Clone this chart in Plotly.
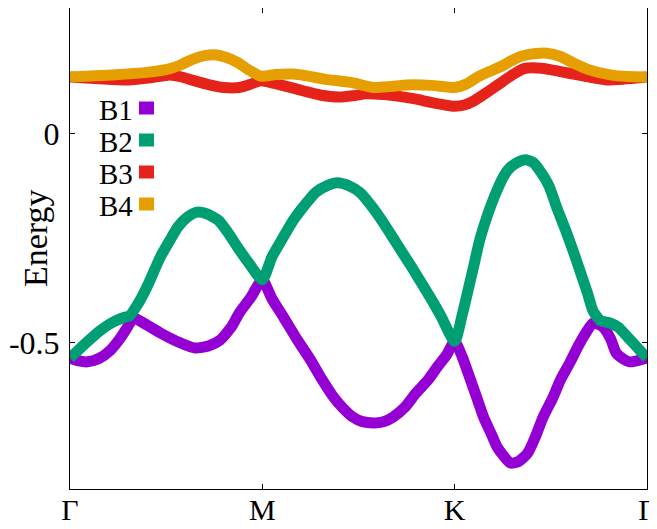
import plotly.graph_objects as go

# Path labels
tick_pos = [0, 1, 2, 3]
tick_labels = ["Γ", "M", "K", "Γ"]
y_ticks = [0, -0.5]
y_tick_labels = ["0", "-0.5"]

# Band B1 (purple)
b1_k = [0.0, 0.04, 0.09, 0.15, 0.21, 0.26, 0.30, 0.33, 0.40, 0.47, 0.56, 0.65, 0.72, 0.78, 0.84, 0.88, 0.94, 1.0,
        1.05, 1.11, 1.18, 1.25, 1.31, 1.37, 1.42, 1.47, 1.52, 1.58, 1.63, 1.68, 1.74, 1.80, 1.86, 1.91, 1.96, 2.0,
        2.04, 2.07, 2.11, 2.15, 2.19, 2.22, 2.26, 2.29, 2.33, 2.38, 2.42, 2.46, 2.51, 2.55, 2.60, 2.64, 2.68, 2.72,
        2.77, 2.81, 2.84, 2.88, 2.91, 2.95, 3.0]
b1_e = [-0.537, -0.543, -0.546, -0.538, -0.518, -0.490, -0.462, -0.441, -0.458, -0.477, -0.498, -0.513, -0.508, -0.494, -0.462, -0.429, -0.392, -0.350,
        -0.395, -0.439, -0.492, -0.541, -0.588, -0.630, -0.657, -0.678, -0.689, -0.692, -0.689, -0.678, -0.655, -0.620, -0.590, -0.558, -0.528, -0.497,
        -0.535, -0.573, -0.625, -0.678, -0.718, -0.749, -0.774, -0.788, -0.785, -0.764, -0.725, -0.678, -0.632, -0.589, -0.547, -0.510, -0.478, -0.453,
        -0.462, -0.490, -0.525, -0.540, -0.546, -0.543, -0.537]

# Band B2 (green)
b2_k = [0.0, 0.08, 0.16, 0.22, 0.28, 0.31, 0.35, 0.40, 0.47, 0.52, 0.56, 0.61, 0.66, 0.71, 0.77, 0.82, 0.87, 0.93, 1.0,
        1.05, 1.11, 1.16, 1.20, 1.28, 1.34, 1.39, 1.45, 1.51, 1.57, 1.63, 1.68, 1.72, 1.78, 1.84, 1.89, 1.93, 2.0,
        2.04, 2.07, 2.10, 2.13, 2.17, 2.22, 2.26, 2.29, 2.33, 2.37, 2.41, 2.44, 2.49, 2.53, 2.58, 2.62, 2.66, 2.69,
        2.72, 2.76, 2.80, 2.85, 2.90, 2.95, 3.0]
b2_e = [-0.537, -0.502, -0.470, -0.452, -0.440, -0.436, -0.410, -0.367, -0.295, -0.255, -0.224, -0.200, -0.188, -0.192, -0.207, -0.236, -0.271, -0.310, -0.350,
        -0.295, -0.247, -0.208, -0.183, -0.140, -0.124, -0.118, -0.125, -0.142, -0.175, -0.214, -0.250, -0.279, -0.322, -0.367, -0.405, -0.438, -0.497,
        -0.432, -0.374, -0.315, -0.255, -0.196, -0.136, -0.098, -0.081, -0.068, -0.063, -0.070, -0.087, -0.125, -0.176, -0.235, -0.286, -0.340, -0.381,
        -0.425, -0.448, -0.452, -0.463, -0.487, -0.512, -0.537]

# Band B3 (red)
b3_k = [0.0, 0.15, 0.30, 0.42, 0.52, 0.58, 0.64, 0.72, 0.80, 0.88, 0.94, 0.99, 1.06, 1.14, 1.22, 1.30, 1.40, 1.47, 1.54,
        1.63, 1.72, 1.80, 1.87, 1.94, 2.0, 2.05, 2.10, 2.16, 2.23, 2.30, 2.36, 2.45, 2.55, 2.64, 2.72, 2.79, 2.88, 3.0]
b3_e = [0.135, 0.131, 0.128, 0.133, 0.140, 0.135, 0.127, 0.117, 0.110, 0.110, 0.118, 0.126, 0.120, 0.111, 0.101, 0.092, 0.087, 0.090, 0.095,
        0.093, 0.088, 0.082, 0.075, 0.069, 0.065, 0.068, 0.078, 0.096, 0.118, 0.140, 0.155, 0.156, 0.148, 0.140, 0.133, 0.128, 0.130, 0.135]

# Band B4 (orange)
b4_k = [0.0, 0.22, 0.40, 0.52, 0.58, 0.64, 0.70, 0.75, 0.81, 0.87, 0.93, 0.99, 1.07, 1.16, 1.24, 1.32, 1.46, 1.58, 1.66, 1.75,
        1.88, 2.0, 2.06, 2.12, 2.18, 2.24, 2.30, 2.35, 2.42, 2.48, 2.55, 2.62, 2.70, 2.81, 2.90, 3.0]
b4_e = [0.135, 0.140, 0.146, 0.155, 0.165, 0.178, 0.186, 0.188, 0.182, 0.170, 0.152, 0.137, 0.141, 0.142, 0.137, 0.130, 0.122, 0.110, 0.112, 0.116,
        0.115, 0.110, 0.118, 0.135, 0.148, 0.160, 0.175, 0.185, 0.191, 0.192, 0.184, 0.168, 0.152, 0.140, 0.136, 0.135]

names = ["B1", "B2", "B3", "B4"]
colors = ["#9400D3", "#009E73", "#E5231B", "#E69F00"]
bands = [(b1_k, b1_e), (b2_k, b2_e), (b3_k, b3_e), (b4_k, b4_e)]

fig = go.Figure()
for (k, e), nm, c in zip(bands, names, colors):
    fig.add_trace(go.Scatter(x=k, y=e, mode="lines", name=nm,
                             line=dict(color=c, width=11, shape="spline", smoothing=0.6),
                             showlegend=False))

serif = "Liberation Serif, Times New Roman, serif"

# Page pixel coordinates (the page body adds an 8px offset)
OFF = 8
plot_left, plot_top, plot_w, plot_h = 70, 8, 577, 481

def px_x(p):
    return (p - plot_left) / plot_w

def px_y(p):
    return (plot_top + plot_h - p) / plot_h

# Legend (text then colour swatch, gnuplot style)
legend_y = [108, 140, 172, 204]  # pixel centres
for nm, c, py in zip(names, colors, legend_y):
    yp = px_y(py)
    fig.add_annotation(x=px_x(134), y=yp, xref="paper", yref="paper",
                       text=nm, showarrow=False, xanchor="right", yanchor="middle",
                       borderpad=0,
                       font=dict(family=serif, size=29, color="black"), yshift=-2)
    fig.add_shape(type="rect", xref="paper", yref="paper",
                  x0=px_x(139), x1=px_x(154),
                  y0=yp - 6.5 / plot_h, y1=yp + 6.5 / plot_h,
                  fillcolor=c, line=dict(width=0))

fig.add_annotation(x=px_x(35), y=px_y(238), xref="paper", yref="paper",
                   text="Energy", textangle=-90, showarrow=False,
                   xanchor="center", yanchor="middle",
                   font=dict(family=serif, size=34, color="black"))

axis_common = dict(showgrid=False, zeroline=False, showline=True, linecolor="black",
                   linewidth=1, mirror="allticks", ticks="inside", ticklen=5,
                   tickcolor="black", tickwidth=1, automargin=False)

fig.update_xaxes(range=[0, 3], tickvals=tick_pos, ticktext=tick_labels,
                 tickfont=dict(family=serif, size=30, color="black"),
                 ticklabelstandoff=-6, **axis_common)
fig.update_yaxes(range=[-0.85, 0.3], tickvals=y_ticks, ticktext=y_tick_labels,
                 tickfont=dict(family=serif, size=32, color="black"),
                 ticklabelstandoff=3, **axis_common)

W, H = 657 - OFF, 529 - OFF
fig.update_layout(width=W, height=H,
                  margin=dict(l=plot_left - OFF, t=plot_top - OFF,
                              r=W - (plot_left - OFF) - plot_w,
                              b=H - (plot_top - OFF) - plot_h),
                  paper_bgcolor="white", plot_bgcolor="white")

fig.write_html("out.html")
